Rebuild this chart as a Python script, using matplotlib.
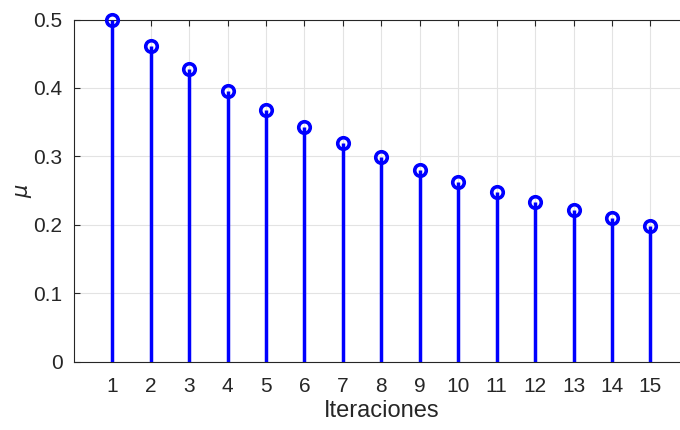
import numpy as np
import matplotlib.pyplot as plt

plt.rcParams['font.family'] = ['Liberation Sans', 'DejaVu Sans']

# step size per iteration
iteraciones = list(range(1, 16))
mu = [0.500, 0.462, 0.428, 0.396, 0.368, 0.343, 0.320, 0.299,
      0.280, 0.263, 0.2475, 0.234, 0.221, 0.2095, 0.199]

fig = plt.figure(figsize=(6.8, 4.3), dpi=100)
ax = fig.add_axes([0.1084, 0.1588, 0.9047, 0.7958])

ax.grid(True, color='#e3e3e3', linewidth=0.8, zorder=0)
ax.set_axisbelow(True)

markerline, stemlines, baseline = ax.stem(iteraciones, mu, basefmt=' ')
plt.setp(stemlines, color='#0000ff', linewidth=2.5, zorder=3)
plt.setp(markerline, color='#0000ff', marker='o', markersize=8.3,
         markerfacecolor='none', markeredgewidth=2.6, zorder=4,
         clip_on=False)

ax.set_xlim(0, 16)
ax.set_ylim(0, 0.5)
ax.set_xticks(iteraciones)
ax.set_yticks([0, 0.1, 0.2, 0.3, 0.4, 0.5])
ax.set_yticklabels(['0', '0.1', '0.2', '0.3', '0.4', '0.5'])

for s in ax.spines.values():
    s.set_color('#262626')
    s.set_linewidth(0.8)
ax.tick_params(direction='in', length=4, width=0.8, colors='#262626',
               labelsize=15, top=True, right=True, pad=8)
ax.tick_params(axis='x', pad=11)

ax.set_xlabel('Iteraciones', fontsize=17, color='#262626', labelpad=3)
ax.set_ylabel(r'$\mu$', fontsize=15, color='#262626')
ax.yaxis.set_label_coords(-0.064, 0.5)

fig.savefig('out.png', dpi=100)
